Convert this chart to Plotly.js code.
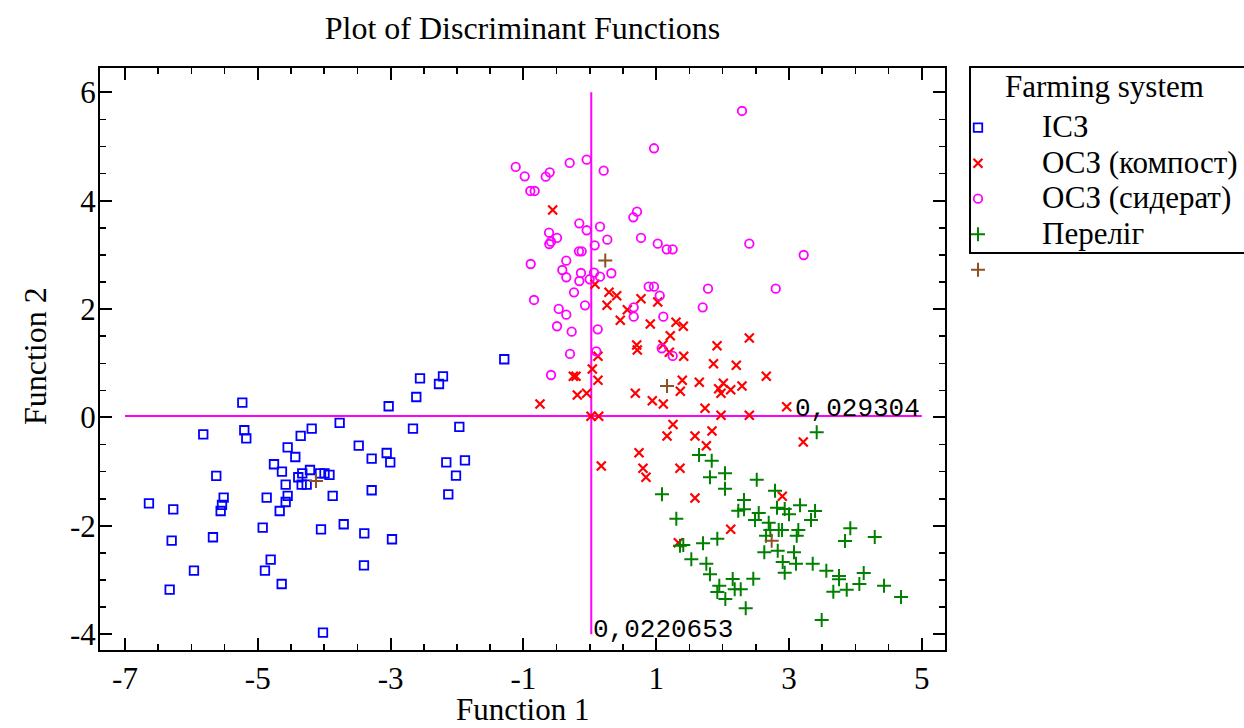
<!DOCTYPE html>
<html>
<head>
<meta charset="utf-8">
<script src="https://cdn.plot.ly/plotly-3.0.1.min.js"></script>
<style>
  html, body { margin: 0; padding: 0; background: #ffffff; }
  #chart { width: 1244px; height: 728px; }
</style>
</head>
<body>
<div id="chart"></div>
<script>
// Discriminant scores (Function 1, Function 2) per farming system
const icsX = [-5.233,-5.821,-5.203,-5.173,-4.188,-3.767,-4.354,-4.550,-4.435,-4.756,-4.636,-5.625,-4.214,-4.330,-4.390,-4.063,-3.995,-3.920,-4.580,-4.339,-4.264,-3.872,-6.639,-6.273,-5.514,-5.539,-5.559,-4.866,-4.550,-4.580,-4.670,-4.926,-4.048,-3.706,-6.297,-5.675,-4.806,-4.892,-5.961,-4.640,-6.327,-4.018,-1.288,-2.557,-2.211,-2.271,-2.613,-3.029,-2.663,-1.965,-3.480,-3.285,-3.059,-3.005,-2.161,-1.880,-2.015,-3.285,-2.131,-3.396,-2.979,-3.401];
const icsY = [0.273,-0.310,-0.236,-0.384,-0.207,-0.101,-0.341,-0.550,-0.729,-0.863,-1.000,-1.079,-0.969,-1.030,-1.103,-1.030,-1.030,-1.060,-1.240,-1.240,-1.240,-1.448,-1.583,-1.694,-1.480,-1.614,-1.725,-1.480,-1.448,-1.559,-1.725,-2.033,-2.063,-1.970,-2.273,-2.210,-2.624,-2.827,-2.827,-3.072,-3.177,-3.970,1.074,0.723,0.760,0.618,0.378,0.207,-0.207,-0.175,-0.520,-0.760,-0.655,-0.827,-0.827,-0.790,-1.074,-1.343,-1.417,-2.137,-2.247,-2.727];

const kompostX = [-0.559,0.078,0.289,0.405,0.259,0.565,0.459,0.771,1.023,0.911,1.298,1.408,1.212,2.402,0.706,0.715,1.102,1.197,1.414,1.916,0.123,1.863,0.038,-0.248,-0.208,0.123,1.393,1.649,1.363,-0.188,-0.047,-0.750,0.685,0.941,1.107,1.735,0.018,0.134,1.253,1.163,1.584,1.840,1.755,0.741,0.173,0.801,0.846,1.358,1.584,2.206,2.658,2.011,1.941,1.976,2.122,2.292,1.976,2.402,2.965,3.215,2.899,2.122,1.333];
const kompostY = [3.828,2.458,2.310,2.247,2.070,1.989,1.793,2.192,2.131,1.725,1.756,1.683,1.509,1.467,1.338,1.245,1.343,1.203,1.129,1.325,1.129,0.993,0.895,0.760,0.760,0.686,0.686,0.649,0.483,0.415,0.446,0.249,0.446,0.310,0.249,0.172,0.022,0.022,-0.129,-0.341,-0.341,-0.249,-0.520,-0.651,-0.895,-0.937,-1.103,-0.937,-1.485,0.963,0.760,0.631,0.531,0.446,0.513,0.581,0.041,0.041,0.199,-0.452,-1.454,-2.063,-2.310];

const sideratX = [0.967,-0.047,-0.303,-1.116,-0.980,-0.604,-0.664,0.209,-0.896,-0.830,0.711,0.655,-0.158,-0.047,0.154,-0.614,-0.494,-0.584,-0.610,0.264,0.771,1.023,1.158,1.248,0.074,-0.163,-0.122,-0.890,-0.354,-0.414,-0.354,-0.133,-0.158,0.063,-0.002,0.154,0.324,0.887,0.967,1.053,-0.238,-0.840,0.661,0.661,-0.468,-0.354,-0.072,1.107,-0.494,-0.273,0.119,2.292,2.402,3.221,1.780,2.800,1.700,0.098,-0.298,-0.584,1.083,1.248];
const sideratY = [4.967,4.756,4.696,4.622,4.450,4.524,4.443,4.554,4.179,4.179,3.797,3.694,3.583,3.454,3.520,3.410,3.312,3.244,3.201,3.280,3.312,3.207,3.103,3.103,3.177,3.066,3.066,2.832,2.893,2.721,2.587,2.666,2.518,2.672,2.550,2.598,2.661,2.413,2.413,2.247,2.310,2.168,2.033,1.860,2.002,1.897,2.070,1.860,1.683,1.583,1.627,5.655,3.207,2.998,2.376,2.376,2.033,1.221,1.172,0.784,1.277,1.135];

const pereligX = [1.645,1.836,1.810,1.087,3.417,2.036,2.514,2.036,2.789,2.322,2.236,2.322,2.544,2.488,2.819,2.935,3.000,3.166,3.392,3.331,2.694,2.718,2.845,2.895,3.140,3.116,2.654,1.303,3.923,3.843,4.291,1.920,1.705,1.358,1.408,2.830,2.628,3.075,1.529,1.755,2.905,3.105,3.357,2.935,1.810,3.562,3.753,3.753,4.125,2.152,2.462,1.950,1.920,2.182,2.273,4.059,3.869,3.667,4.431,4.687,2.041,2.348,3.492];
const pereligY = [-0.692,-0.797,-1.103,-1.417,-0.273,-1.030,-1.148,-1.314,-1.351,-1.522,-1.720,-1.694,-1.762,-1.891,-1.664,-1.688,-1.786,-1.620,-1.725,-1.891,-1.941,-2.076,-2.076,-2.076,-2.076,-2.181,-2.181,-1.867,-2.044,-2.279,-2.205,-2.236,-2.321,-2.365,-2.352,-2.458,-2.487,-2.487,-2.616,-2.697,-2.666,-2.697,-2.697,-2.863,-2.893,-2.827,-2.924,-2.985,-2.869,-2.980,-2.974,-3.103,-3.220,-3.170,-3.170,-3.072,-3.177,-3.214,-3.103,-3.312,-3.349,-3.520,-3.736];

// Group centroids
const centroidX = [-4.123, 0.233, 1.163, 2.739];
const centroidY = [-1.172, 2.897, 0.581, -2.273];

// Cut-off values of the two functions
const cutF1 = 0.0220653;
const cutF2 = 0.029304;

// Axis tick values
const xTicks = [-7, -5, -3, -1, 1, 3, 5];
const yTicks = [-4, -2, 0, 2, 4, 6];

const groupNames = ['ІСЗ', 'ОСЗ (компост)', 'ОСЗ (сидерат)', 'Переліг'];
const legendTitle = 'Farming system';
const xTitle = 'Function 1';
const yTitle = 'Function 2';

const serif = 'Liberation Serif, Times New Roman, serif';
const label = s => '<span style="font-size:31px">' + s + '</span>';
const commaNum = v => String(v).replace('.', ',');

const mk = (x, y, name, symbol, color, size, lw) => ({
  type: 'scatter', mode: 'markers', x: x, y: y, name: name,
  marker: { symbol: symbol, size: size, color: color, line: { color: color, width: lw } },
  hoverinfo: 'skip'
});

const traces = [
  mk(icsX, icsY, label(groupNames[0]), 'square-open', '#0000ff', 8.5, 1.8),
  mk(kompostX, kompostY, label(groupNames[1]), 'x-thin-open', '#ff0000', 9, 2.2),
  mk(sideratX, sideratY, label(groupNames[2]), 'circle-open', '#ff00ff', 8.5, 1.8),
  mk(pereligX, pereligY, label(groupNames[3]), 'cross-thin-open', '#008000', 10, 2),
  mk(centroidX, centroidY, '', 'cross-thin-open', '#8c5226', 10, 2)
];

const axisCommon = {
  tickmode: 'array',
  ticks: 'inside', ticklen: 12, tickwidth: 2, tickcolor: '#000',
  showline: true, linecolor: '#000', linewidth: 2, mirror: 'ticks',
  showgrid: false, zeroline: false,
  tickfont: { family: serif, size: 31, color: '#000' }
};

const layout = {
  width: 1244, height: 728,
  paper_bgcolor: '#ffffff', plot_bgcolor: '#ffffff',
  margin: { l: 100, r: 299, t: 68, b: 78, autoexpand: false },
  font: { family: serif, size: 31, color: '#000000' },
  title: {
    text: 'Plot of Discriminant Functions',
    font: { family: serif, size: 32, color: '#000000' },
    x: 0.5, xref: 'paper', xanchor: 'center',
    y: 0.9625, yref: 'container', yanchor: 'middle'
  },
  xaxis: Object.assign({}, axisCommon, {
    range: [-7.376, 5.349],
    tickvals: xTicks, ticktext: xTicks.map(String),
    ticklabelstandoff: 0,
    minor: { tickmode: 'linear', tick0: -7, dtick: 0.5, ticks: 'inside', ticklen: 6, tickwidth: 1.5, tickcolor: '#000' }
  }),
  yaxis: Object.assign({}, axisCommon, {
    range: [-4.290, 6.448],
    tickvals: yTicks, ticktext: yTicks.map(String),
    ticklabelstandoff: -4,
    minor: { tickmode: 'linear', tick0: -4, dtick: 0.5, ticks: 'inside', ticklen: 6, tickwidth: 1.5, tickcolor: '#000' }
  }),
  showlegend: true,
  legend: {
    x: 0.9633, xanchor: 'left', y: 0.9365, yanchor: 'top',
    itemwidth: 118, borderwidth: 0, bgcolor: 'rgba(0,0,0,0)',
    font: { family: serif, size: 25, color: '#000' },
    traceorder: 'normal', tracegroupgap: 0
  },
  shapes: [
    { type: 'line', xref: 'x', yref: 'y', x0: -7, x1: 5, y0: cutF2, y1: cutF2,
      line: { color: '#ff00ff', width: 2 }, layer: 'below' },
    { type: 'line', xref: 'x', yref: 'y', x0: cutF1, x1: cutF1, y0: -4, y1: 6,
      line: { color: '#ff00ff', width: 2 }, layer: 'below' },
    { type: 'rect', xref: 'paper', yref: 'paper', x0: 1.0296, x1: 1.3728, y0: 0.6821, y1: 1.0017,
      line: { color: '#000', width: 2 }, fillcolor: 'rgba(0,0,0,0)' }
  ],
  annotations: [
    // axis titles
    { text: xTitle, xref: 'paper', yref: 'paper', x: 0.5, y: -0.1014,
      xanchor: 'center', yanchor: 'middle', showarrow: false, borderpad: 0,
      font: { family: serif, size: 31, color: '#000' } },
    { text: yTitle, xref: 'paper', yref: 'paper', x: -0.0769, y: 0.505,
      xanchor: 'center', yanchor: 'middle', showarrow: false, textangle: -90,
      font: { family: serif, size: 32, color: '#000' } },
    // legend heading
    { text: legendTitle, xref: 'paper', yref: 'paper', x: 1.0686, y: 0.9690,
      xanchor: 'left', yanchor: 'middle', showarrow: false,
      font: { family: serif, size: 31, color: '#000' } },
    // cut-off labels
    { text: commaNum(cutF2), xref: 'x', yref: 'y', x: 5, y: cutF2,
      xanchor: 'right', yanchor: 'bottom', showarrow: false, yshift: -10,
      font: { family: 'Liberation Mono, DejaVu Sans Mono, monospace', size: 26, color: '#000' } },
    { text: commaNum(cutF1), xref: 'x', yref: 'y', x: cutF1, y: -4,
      xanchor: 'left', yanchor: 'bottom', showarrow: false, yshift: -13,
      font: { family: 'Liberation Mono, DejaVu Sans Mono, monospace', size: 26, color: '#000' } }
  ]
};

Plotly.newPlot('chart', traces, layout, { staticPlot: true, displayModeBar: false });
</script>
</body>
</html>
